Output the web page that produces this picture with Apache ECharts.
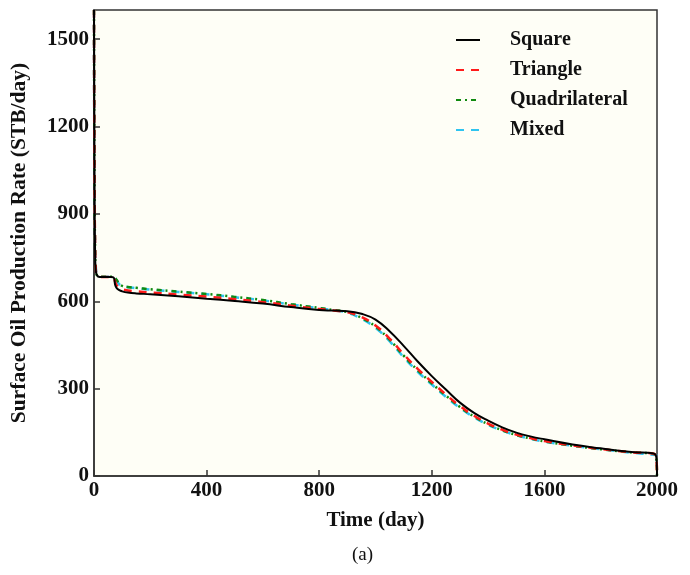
<!DOCTYPE html>
<html>
<head>
<meta charset="utf-8">
<script src="https://cdn.jsdelivr.net/npm/echarts@6/dist/echarts.min.js"></script>
<style>
html,body{margin:0;padding:0;background:#ffffff;}
#chart{width:690px;height:575px;}
</style>
</head>
<body>
<div id="chart"></div>
<script>
var days = [0, 2, 4, 6, 10, 20, 40, 60, 70, 75, 80, 90, 100, 120, 150, 200, 300, 400, 500, 600, 700, 800, 850, 900, 950, 1000, 1050, 1100, 1150, 1200, 1250, 1300, 1350, 1400, 1450, 1500, 1550, 1600, 1700, 1800, 1900, 1995, 2000];
var square =        [1600, 1000, 760, 710, 690, 683, 683, 683, 681, 657, 646, 638, 634, 630, 627, 624, 617, 609, 601, 592, 580, 570, 568, 566, 557, 537, 497, 447, 393, 343, 297, 252, 217, 190, 167, 149, 136, 126, 108, 95, 83, 73, 0];
var triangle =      [1600, 970, 800, 720, 690, 683, 683, 683, 682, 667, 656, 646, 641, 637, 634, 630, 623, 616, 607, 597, 585, 573, 568, 562, 546, 517, 472, 418, 368, 323, 280, 240, 207, 180, 159, 142, 130, 120, 105, 93, 82, 72, 0];
var quadrilateral = [1600, 950, 780, 715, 690, 684, 684, 684, 684, 680, 674, 660, 653, 649, 646, 641, 633, 625, 615, 604, 590, 577, 570, 563, 543, 513, 468, 413, 363, 318, 276, 237, 204, 178, 157, 141, 129, 119, 104, 92, 82, 72, 0];
var mixed =         [1600, 900, 800, 730, 692, 684, 684, 684, 684, 680, 672, 658, 652, 648, 645, 640, 632, 624, 614, 603, 589, 576, 569, 561, 540, 509, 463, 408, 358, 314, 272, 234, 202, 176, 156, 140, 128, 118, 104, 92, 81, 72, 70];
var seriesNames = ['Square', 'Triangle', 'Quadrilateral', 'Mixed'];

function pairs(vals) { return days.map(function (d, i) { return [d, vals[i]]; }); }

var serif = '"Liberation Serif", "Times New Roman", serif';
var chart = echarts.init(document.getElementById('chart'), null, {renderer: 'canvas'});
var common = {type: 'line', symbol: 'none', smooth: 0.45, clip: true};
chart.setOption({
  animation: false,
  backgroundColor: '#ffffff',
  grid: {left: 90, right: 33, top: 10, bottom: 99, show: true, backgroundColor: '#fefef6', borderColor: '#333333', borderWidth: 1.5},
  legend: {
    orient: 'vertical', left: 450, top: 25, itemGap: 10, itemWidth: 24, itemHeight: 20,
    itemStyle: {opacity: 0},
    textStyle: {fontFamily: serif, fontWeight: 'bold', fontSize: 20, color: '#111', padding: [0, 0, 0, 25]},
    data: seriesNames
  },
  xAxis: {
    type: 'value', min: 0, max: 2000, interval: 400,
    name: 'Time (day)', nameLocation: 'middle', nameGap: 34,
    nameTextStyle: {fontFamily: serif, fontWeight: 'bold', fontSize: 21, color: '#111'},
    axisLine: {lineStyle: {color: '#333', width: 1.5}},
    axisTick: {inside: true, length: 6, lineStyle: {color: '#333', width: 1.5}},
    axisLabel: {margin: 4, fontFamily: serif, fontWeight: 'bold', fontSize: 21, color: '#111',
      formatter: function (v) { return String(v); }},
    splitLine: {show: false}
  },
  yAxis: {
    type: 'value', min: 0, max: 1600, interval: 300,
    name: 'Surface Oil Production Rate (STB/day)', nameLocation: 'middle', nameGap: 64,
    nameTextStyle: {fontFamily: serif, fontWeight: 'bold', fontSize: 21.5, color: '#111'},
    axisLine: {lineStyle: {color: '#333', width: 1.5}},
    axisTick: {inside: true, length: 6, lineStyle: {color: '#333', width: 1.5}},
    axisLabel: {margin: 5, showMaxLabel: false, fontFamily: serif, fontWeight: 'bold', fontSize: 21, color: '#111',
      formatter: function (v) { return String(v); }},
    splitLine: {show: false}
  },
  series: [
    Object.assign({}, common, {name: seriesNames[0], data: pairs(square), z: 5,
      itemStyle: {color: '#000000'}, lineStyle: {color: '#000000', width: 2}}),
    Object.assign({}, common, {name: seriesNames[1], data: pairs(triangle), z: 4,
      itemStyle: {color: '#ff1a1a'}, lineStyle: {color: '#ff1a1a', width: 2.5, type: [8, 7]}}),
    Object.assign({}, common, {name: seriesNames[2], data: pairs(quadrilateral), z: 3,
      itemStyle: {color: '#108a10'}, lineStyle: {color: '#108a10', width: 2.5, type: [5, 4, 2, 4]}}),
    Object.assign({}, common, {name: seriesNames[3], data: pairs(mixed), z: 2,
      itemStyle: {color: '#2ec4f0'}, lineStyle: {color: '#2ec4f0', width: 2.5, type: [8, 7]}})
  ],
  graphic: [{type: 'text', left: 352, top: 546, style: {text: '(a)', fontFamily: serif, fontSize: 19, fill: '#111'}}]
});
</script>
</body>
</html>
